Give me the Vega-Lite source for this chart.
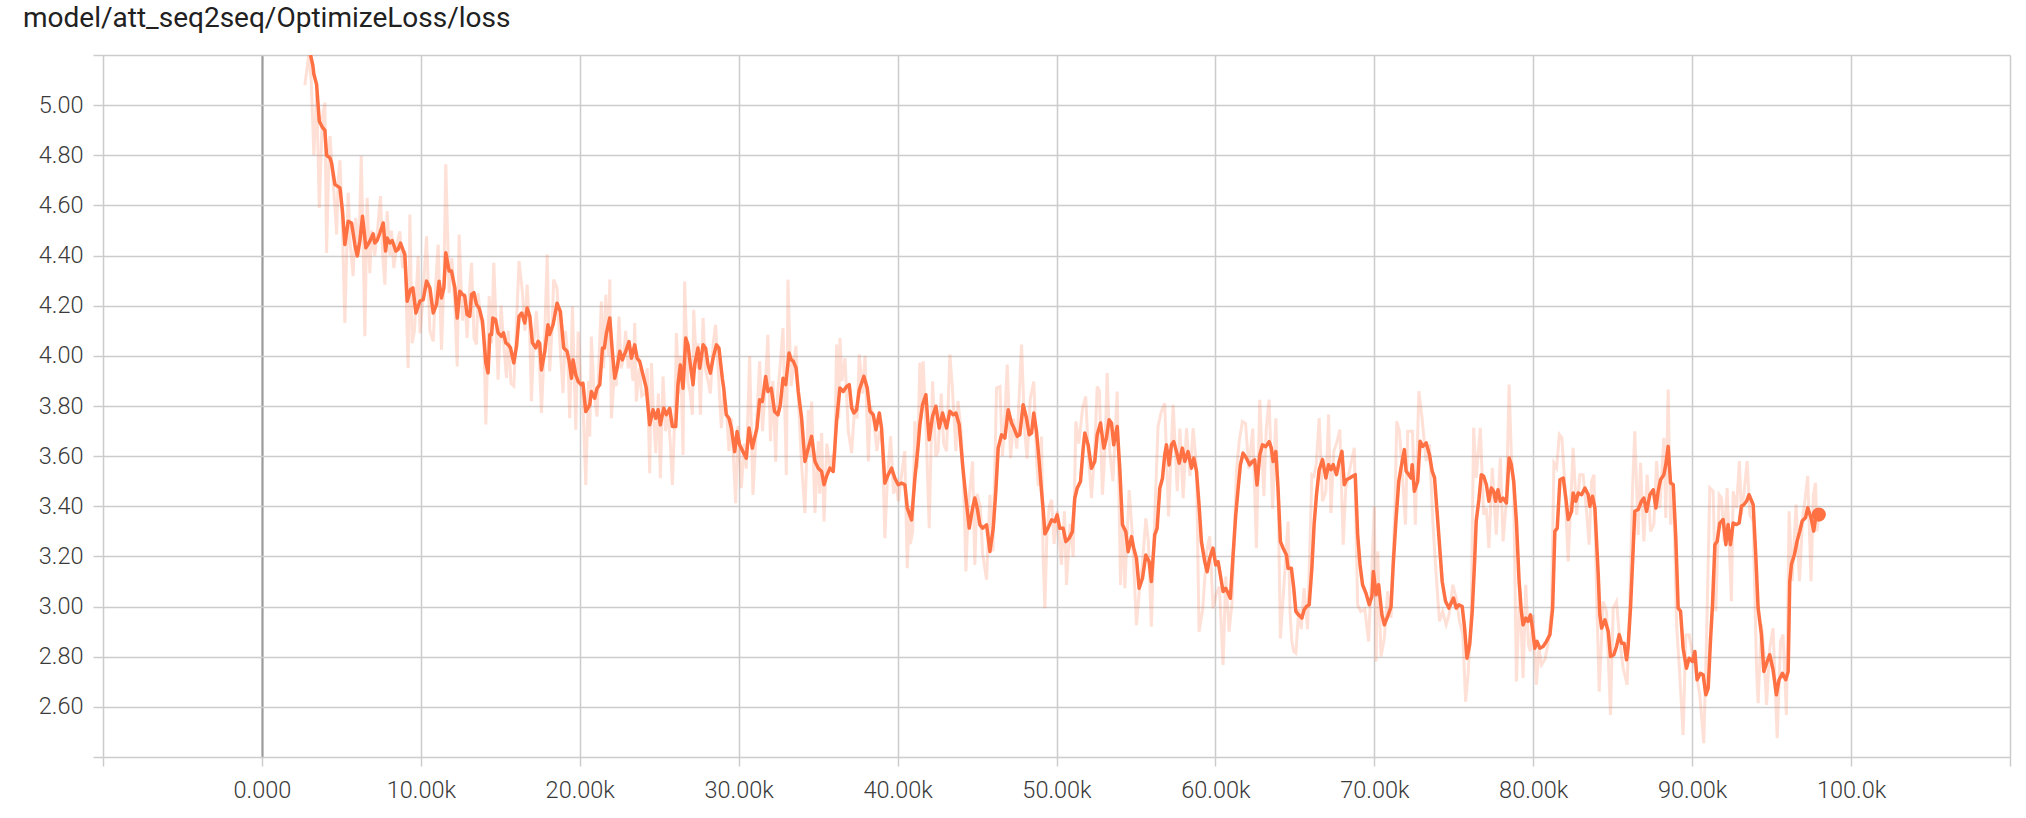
{
"$schema":"https://vega.github.io/schema/vega-lite/v6.json",
"width":1907,"height":702,
"autosize":{"type":"pad"},
"padding":{"left":23,"top":5,"right":16,"bottom":5},
"background":"white",
"title":{"text":"model/att_seq2seq/OptimizeLoss/loss","anchor":"start","frame":"group","dx":-80,"baseline":"bottom","offset":-18,"font":"Roboto","fontSize":28,"fontWeight":400,"color":"#212121"},
"datasets":{
"raw":[{"s":2700,"v":5.08},{"s":2950,"v":5.2},{"s":3100,"v":5.1},{"s":3270,"v":4.8},{"s":3450,"v":5.05},{"s":3610,"v":4.59},{"s":3800,"v":4.95},{"s":3960,"v":5.01},{"s":4070,"v":4.41},{"s":4200,"v":4.75},{"s":4280,"v":4.877},{"s":4450,"v":4.72},{"s":4590,"v":4.6},{"s":4700,"v":4.484},{"s":4800,"v":4.7},{"s":4910,"v":4.78},{"s":5050,"v":4.55},{"s":5220,"v":4.131},{"s":5430,"v":4.65},{"s":5550,"v":4.45},{"s":5740,"v":4.318},{"s":5900,"v":4.55},{"s":6000,"v":4.48},{"s":6100,"v":4.4},{"s":6250,"v":4.797},{"s":6350,"v":4.5},{"s":6480,"v":4.078},{"s":6620,"v":4.63},{"s":6790,"v":4.33},{"s":6900,"v":4.5},{"s":7100,"v":4.4},{"s":7300,"v":4.52},{"s":7460,"v":4.637},{"s":7600,"v":4.4},{"s":7740,"v":4.284},{"s":7880,"v":4.577},{"s":8050,"v":4.4},{"s":8150,"v":4.5},{"s":8300,"v":4.35},{"s":8500,"v":4.45},{"s":8680,"v":4.497},{"s":8850,"v":4.35},{"s":9000,"v":4.42},{"s":9200,"v":3.952},{"s":9310,"v":4.564},{"s":9450,"v":4.05},{"s":9600,"v":4.1},{"s":9830,"v":4.397},{"s":9950,"v":4.09},{"s":10100,"v":4.2},{"s":10360,"v":4.477},{"s":10570,"v":4.1},{"s":10780,"v":4.058},{"s":10950,"v":4.3},{"s":11090,"v":4.444},{"s":11300,"v":4.025},{"s":11450,"v":4.3},{"s":11570,"v":4.764},{"s":11780,"v":4.25},{"s":11950,"v":4.39},{"s":12140,"v":4.2},{"s":12290,"v":3.958},{"s":12410,"v":4.484},{"s":12620,"v":4.14},{"s":12750,"v":4.25},{"s":12910,"v":4.072},{"s":13050,"v":4.25},{"s":13190,"v":4.371},{"s":13350,"v":4.07},{"s":13500,"v":4.045},{"s":13600,"v":4.25},{"s":13780,"v":4.14},{"s":13950,"v":4.1},{"s":14090,"v":3.726},{"s":14300,"v":4.238},{"s":14450,"v":4.05},{"s":14590,"v":4.371},{"s":14750,"v":4.1},{"s":14860,"v":3.905},{"s":15050,"v":4.2},{"s":15200,"v":4.06},{"s":15390,"v":3.912},{"s":15500,"v":4.1},{"s":15670,"v":3.89},{"s":15850,"v":3.88},{"s":16000,"v":4.1},{"s":16180,"v":4.378},{"s":16400,"v":4.25},{"s":16550,"v":4.1},{"s":16690,"v":4.284},{"s":16850,"v":4.1},{"s":16960,"v":3.819},{"s":17100,"v":4.05},{"s":17270,"v":4.178},{"s":17450,"v":4.0},{"s":17590,"v":3.772},{"s":17780,"v":4.05},{"s":17950,"v":4.404},{"s":18110,"v":3.938},{"s":18250,"v":4.1},{"s":18360,"v":4.304},{"s":18570,"v":4.27},{"s":18750,"v":4.05},{"s":18950,"v":3.851},{"s":19100,"v":4.1},{"s":19250,"v":4.0},{"s":19370,"v":3.751},{"s":19540,"v":4.197},{"s":19750,"v":3.705},{"s":19900,"v":4.097},{"s":20050,"v":3.9},{"s":20200,"v":3.82},{"s":20380,"v":3.485},{"s":20550,"v":3.9},{"s":20630,"v":3.678},{"s":20730,"v":4.077},{"s":20900,"v":3.85},{"s":21090,"v":3.758},{"s":21250,"v":4.05},{"s":21360,"v":4.217},{"s":21500,"v":3.95},{"s":21640,"v":4.244},{"s":21800,"v":4.0},{"s":21890,"v":4.304},{"s":21990,"v":3.751},{"s":22150,"v":3.9},{"s":22300,"v":3.88},{"s":22470,"v":4.157},{"s":22600,"v":3.95},{"s":22750,"v":3.99},{"s":22890,"v":4.1},{"s":23050,"v":3.95},{"s":23200,"v":4.0},{"s":23350,"v":3.9},{"s":23460,"v":4.131},{"s":23560,"v":3.818},{"s":23750,"v":3.95},{"s":23900,"v":3.84},{"s":24100,"v":3.85},{"s":24250,"v":3.95},{"s":24400,"v":3.532},{"s":24510,"v":3.971},{"s":24650,"v":3.75},{"s":24780,"v":3.612},{"s":24950,"v":3.85},{"s":25070,"v":3.512},{"s":25240,"v":3.918},{"s":25400,"v":3.7},{"s":25550,"v":3.78},{"s":25700,"v":3.65},{"s":25830,"v":3.485},{"s":26000,"v":3.8},{"s":26080,"v":4.091},{"s":26250,"v":3.85},{"s":26350,"v":4.0},{"s":26500,"v":3.605},{"s":26600,"v":4.297},{"s":26800,"v":3.9},{"s":26950,"v":3.85},{"s":27090,"v":3.765},{"s":27170,"v":4.184},{"s":27350,"v":3.95},{"s":27450,"v":4.05},{"s":27590,"v":3.765},{"s":27760,"v":4.151},{"s":27900,"v":3.95},{"s":28070,"v":3.9},{"s":28220,"v":3.85},{"s":28400,"v":4.05},{"s":28550,"v":4.124},{"s":28750,"v":3.9},{"s":28910,"v":3.712},{"s":29050,"v":3.85},{"s":29220,"v":3.8},{"s":29390,"v":3.62},{"s":29550,"v":3.75},{"s":29810,"v":3.412},{"s":29950,"v":3.72},{"s":30170,"v":3.472},{"s":30350,"v":3.65},{"s":30480,"v":3.55},{"s":30690,"v":3.998},{"s":30900,"v":3.445},{"s":31100,"v":3.7},{"s":31320,"v":3.978},{"s":31500,"v":3.7},{"s":31650,"v":3.85},{"s":31840,"v":4.084},{"s":32000,"v":3.66},{"s":32150,"v":3.9},{"s":32330,"v":3.578},{"s":32450,"v":3.85},{"s":32580,"v":3.938},{"s":32790,"v":4.111},{"s":33000,"v":3.525},{"s":33100,"v":4.304},{"s":33300,"v":3.88},{"s":33440,"v":3.95},{"s":33600,"v":4.04},{"s":33750,"v":3.84},{"s":33960,"v":3.566},{"s":34170,"v":3.373},{"s":34380,"v":3.785},{"s":34500,"v":3.6},{"s":34590,"v":3.818},{"s":34800,"v":3.373},{"s":35010,"v":3.659},{"s":35100,"v":3.45},{"s":35220,"v":3.692},{"s":35370,"v":3.339},{"s":35550,"v":3.65},{"s":35750,"v":3.55},{"s":35900,"v":3.6},{"s":36050,"v":3.6},{"s":36160,"v":4.045},{"s":36300,"v":3.75},{"s":36370,"v":4.071},{"s":36500,"v":3.9},{"s":36690,"v":3.991},{"s":36900,"v":3.7},{"s":37110,"v":3.612},{"s":37300,"v":3.8},{"s":37450,"v":3.75},{"s":37590,"v":4.005},{"s":37800,"v":3.85},{"s":37950,"v":4.0},{"s":38160,"v":3.579},{"s":38300,"v":3.8},{"s":38500,"v":3.75},{"s":38700,"v":3.62},{"s":38850,"v":3.7},{"s":39050,"v":3.65},{"s":39200,"v":3.273},{"s":39350,"v":3.5},{"s":39560,"v":3.679},{"s":39750,"v":3.45},{"s":39900,"v":3.5},{"s":40050,"v":3.42},{"s":40200,"v":3.5},{"s":40450,"v":3.62},{"s":40610,"v":3.153},{"s":40750,"v":3.4},{"s":40800,"v":3.25},{"s":40950,"v":3.3},{"s":41090,"v":3.739},{"s":41250,"v":3.55},{"s":41400,"v":3.972},{"s":41500,"v":3.75},{"s":41610,"v":3.978},{"s":41800,"v":3.7},{"s":41990,"v":3.313},{"s":42200,"v":3.898},{"s":42410,"v":3.6},{"s":42550,"v":3.62},{"s":42750,"v":3.85},{"s":42900,"v":3.65},{"s":43080,"v":3.62},{"s":43290,"v":4.005},{"s":43450,"v":3.87},{"s":43670,"v":3.62},{"s":43800,"v":3.82},{"s":44000,"v":3.7},{"s":44150,"v":3.5},{"s":44300,"v":3.14},{"s":44450,"v":3.4},{"s":44720,"v":3.579},{"s":44860,"v":3.166},{"s":45000,"v":3.45},{"s":45200,"v":3.4},{"s":45350,"v":3.21},{"s":45600,"v":3.107},{"s":45810,"v":3.446},{"s":46000,"v":3.22},{"s":46230,"v":3.872},{"s":46440,"v":3.878},{"s":46600,"v":3.6},{"s":46750,"v":3.75},{"s":46900,"v":3.965},{"s":47110,"v":3.592},{"s":47300,"v":3.75},{"s":47500,"v":3.63},{"s":47800,"v":4.045},{"s":48000,"v":3.7},{"s":48150,"v":3.59},{"s":48350,"v":3.83},{"s":48570,"v":3.898},{"s":48750,"v":3.58},{"s":48850,"v":3.48},{"s":49060,"v":3.678},{"s":49160,"v":3.193},{"s":49270,"v":2.993},{"s":49400,"v":3.3},{"s":49550,"v":3.4},{"s":49690,"v":3.426},{"s":49850,"v":3.25},{"s":50050,"v":3.38},{"s":50310,"v":3.166},{"s":50500,"v":3.38},{"s":50630,"v":3.086},{"s":50850,"v":3.33},{"s":51050,"v":3.199},{"s":51220,"v":3.738},{"s":51400,"v":3.65},{"s":51640,"v":3.791},{"s":51840,"v":3.838},{"s":52000,"v":3.62},{"s":52200,"v":3.432},{"s":52410,"v":3.63},{"s":52560,"v":3.878},{"s":52700,"v":3.86},{"s":52890,"v":3.446},{"s":53050,"v":3.63},{"s":53190,"v":3.931},{"s":53350,"v":3.62},{"s":53550,"v":3.5},{"s":53820,"v":3.858},{"s":54030,"v":3.086},{"s":54150,"v":3.35},{"s":54300,"v":3.073},{"s":54570,"v":3.465},{"s":54780,"v":3.28},{"s":55030,"v":2.926},{"s":55250,"v":3.09},{"s":55410,"v":3.17},{"s":55620,"v":3.352},{"s":55780,"v":3.26},{"s":55970,"v":2.92},{"s":56180,"v":3.35},{"s":56390,"v":3.718},{"s":56600,"v":3.778},{"s":56810,"v":3.811},{"s":57050,"v":3.36},{"s":57340,"v":3.805},{"s":57600,"v":3.46},{"s":57760,"v":3.71},{"s":57970,"v":3.432},{"s":58180,"v":3.711},{"s":58400,"v":3.52},{"s":58600,"v":3.711},{"s":58810,"v":3.55},{"s":58970,"v":2.9},{"s":59200,"v":2.99},{"s":59450,"v":3.22},{"s":59640,"v":3.28},{"s":59850,"v":2.993},{"s":60050,"v":3.05},{"s":60250,"v":3.08},{"s":60480,"v":2.767},{"s":60650,"v":3.12},{"s":60860,"v":2.9},{"s":61050,"v":3.02},{"s":61320,"v":3.539},{"s":61500,"v":3.66},{"s":61700,"v":3.738},{"s":61900,"v":3.73},{"s":62100,"v":3.55},{"s":62350,"v":3.71},{"s":62580,"v":3.233},{"s":62790,"v":3.825},{"s":63050,"v":3.44},{"s":63200,"v":3.71},{"s":63380,"v":3.825},{"s":63600,"v":3.39},{"s":63800,"v":3.751},{"s":63950,"v":3.44},{"s":64090,"v":2.873},{"s":64350,"v":3.12},{"s":64570,"v":3.339},{"s":64700,"v":2.97},{"s":64810,"v":2.861},{"s":64930,"v":2.82},{"s":65060,"v":2.814},{"s":65250,"v":2.99},{"s":65400,"v":2.91},{"s":65580,"v":3.074},{"s":65800,"v":2.91},{"s":66070,"v":3.526},{"s":66200,"v":3.52},{"s":66350,"v":3.57},{"s":66530,"v":3.752},{"s":66740,"v":3.42},{"s":66950,"v":3.46},{"s":67120,"v":3.766},{"s":67270,"v":3.373},{"s":67450,"v":3.62},{"s":67620,"v":3.65},{"s":67830,"v":3.706},{"s":68040,"v":3.247},{"s":68200,"v":3.47},{"s":68400,"v":3.53},{"s":68740,"v":3.633},{"s":68950,"v":3.007},{"s":69150,"v":2.98},{"s":69400,"v":2.99},{"s":69640,"v":2.861},{"s":69850,"v":3.16},{"s":70000,"v":3.4},{"s":70110,"v":2.781},{"s":70210,"v":3.22},{"s":70420,"v":2.801},{"s":70630,"v":2.874},{"s":70840,"v":3.061},{"s":71050,"v":2.955},{"s":71300,"v":3.4},{"s":71410,"v":3.739},{"s":71580,"v":3.699},{"s":71750,"v":3.54},{"s":71960,"v":3.327},{"s":72100,"v":3.699},{"s":72400,"v":3.699},{"s":72580,"v":3.327},{"s":72800,"v":3.859},{"s":73000,"v":3.753},{"s":73260,"v":3.58},{"s":73470,"v":3.646},{"s":73680,"v":3.34},{"s":73890,"v":3.127},{"s":74100,"v":2.941},{"s":74300,"v":2.98},{"s":74520,"v":2.928},{"s":74700,"v":2.968},{"s":74940,"v":3.087},{"s":75150,"v":3.034},{"s":75360,"v":2.941},{"s":75570,"v":2.888},{"s":75740,"v":2.621},{"s":75900,"v":2.728},{"s":76100,"v":2.981},{"s":76250,"v":3.713},{"s":76410,"v":3.513},{"s":76670,"v":3.713},{"s":76880,"v":3.366},{"s":77050,"v":3.393},{"s":77210,"v":3.234},{"s":77420,"v":3.553},{"s":77670,"v":3.287},{"s":77930,"v":3.593},{"s":78100,"v":3.26},{"s":78310,"v":3.42},{"s":78480,"v":3.886},{"s":78620,"v":3.606},{"s":78770,"v":3.473},{"s":78940,"v":2.701},{"s":79150,"v":3.074},{"s":79360,"v":2.715},{"s":79530,"v":3.087},{"s":79700,"v":2.848},{"s":79820,"v":2.821},{"s":79990,"v":2.967},{"s":80200,"v":2.688},{"s":80360,"v":2.834},{"s":80520,"v":2.768},{"s":80740,"v":2.79},{"s":80950,"v":2.86},{"s":81150,"v":2.99},{"s":81300,"v":3.573},{"s":81470,"v":3.553},{"s":81640,"v":3.686},{"s":81800,"v":3.673},{"s":81950,"v":3.526},{"s":82200,"v":3.18},{"s":82410,"v":3.486},{"s":82510,"v":3.633},{"s":82730,"v":3.366},{"s":82930,"v":3.526},{"s":83140,"v":3.526},{"s":83350,"v":3.38},{"s":83520,"v":3.247},{"s":83670,"v":3.5},{"s":83820,"v":3.526},{"s":84000,"v":3.02},{"s":84150,"v":2.661},{"s":84400,"v":3.02},{"s":84610,"v":2.981},{"s":84860,"v":2.568},{"s":85030,"v":2.994},{"s":85240,"v":3.02},{"s":85450,"v":2.861},{"s":85660,"v":2.754},{"s":85910,"v":2.688},{"s":86080,"v":3.04},{"s":86250,"v":3.473},{"s":86390,"v":3.699},{"s":86600,"v":3.286},{"s":86750,"v":3.573},{"s":86960,"v":3.26},{"s":87170,"v":3.526},{"s":87380,"v":3.3},{"s":87590,"v":3.33},{"s":87760,"v":3.58},{"s":87960,"v":3.393},{"s":88220,"v":3.673},{"s":88340,"v":3.353},{"s":88490,"v":3.866},{"s":88640,"v":3.327},{"s":88810,"v":3.486},{"s":89020,"v":2.928},{"s":89220,"v":2.728},{"s":89430,"v":2.488},{"s":89600,"v":2.887},{"s":89810,"v":2.887},{"s":90020,"v":2.808},{"s":90270,"v":2.728},{"s":90480,"v":2.648},{"s":90730,"v":2.455},{"s":90900,"v":2.861},{"s":91110,"v":3.473},{"s":91320,"v":3.46},{"s":91490,"v":2.981},{"s":91700,"v":3.446},{"s":91850,"v":3.433},{"s":92000,"v":3.26},{"s":92200,"v":3.473},{"s":92470,"v":3.021},{"s":92580,"v":3.46},{"s":92790,"v":3.393},{"s":92970,"v":3.58},{"s":93100,"v":3.366},{"s":93250,"v":3.446},{"s":93460,"v":3.58},{"s":93630,"v":3.366},{"s":93840,"v":3.34},{"s":94050,"v":2.754},{"s":94150,"v":2.615},{"s":94360,"v":2.928},{"s":94510,"v":2.821},{"s":94680,"v":2.608},{"s":94880,"v":2.834},{"s":95090,"v":2.914},{"s":95350,"v":2.475},{"s":95560,"v":2.861},{"s":95720,"v":2.888},{"s":95930,"v":2.568},{"s":96100,"v":3.38},{"s":96290,"v":3.101},{"s":96540,"v":3.407},{"s":96750,"v":3.101},{"s":96960,"v":3.36},{"s":97130,"v":3.44},{"s":97270,"v":3.521},{"s":97480,"v":3.101},{"s":97620,"v":3.44},{"s":97760,"v":3.494},{"s":97850,"v":3.3},{"s":97970,"v":3.36}],
"smooth":[{"s":3060,"v":5.2},{"s":3200,"v":5.16},{"s":3270,"v":5.123},{"s":3440,"v":5.083},{"s":3610,"v":4.936},{"s":3820,"v":4.91},{"s":3960,"v":4.9},{"s":4070,"v":4.8},{"s":4280,"v":4.79},{"s":4380,"v":4.77},{"s":4590,"v":4.684},{"s":4910,"v":4.67},{"s":5070,"v":4.577},{"s":5220,"v":4.444},{"s":5430,"v":4.537},{"s":5640,"v":4.53},{"s":5850,"v":4.444},{"s":6000,"v":4.398},{"s":6160,"v":4.457},{"s":6330,"v":4.557},{"s":6540,"v":4.431},{"s":6790,"v":4.457},{"s":7000,"v":4.487},{"s":7100,"v":4.45},{"s":7250,"v":4.46},{"s":7420,"v":4.49},{"s":7630,"v":4.53},{"s":7780,"v":4.418},{"s":7880,"v":4.47},{"s":8050,"v":4.45},{"s":8200,"v":4.46},{"s":8430,"v":4.418},{"s":8570,"v":4.425},{"s":8720,"v":4.45},{"s":8990,"v":4.404},{"s":9140,"v":4.218},{"s":9350,"v":4.265},{"s":9500,"v":4.271},{"s":9690,"v":4.171},{"s":9940,"v":4.218},{"s":10150,"v":4.224},{"s":10360,"v":4.298},{"s":10570,"v":4.271},{"s":10780,"v":4.171},{"s":10990,"v":4.205},{"s":11150,"v":4.298},{"s":11300,"v":4.231},{"s":11450,"v":4.271},{"s":11570,"v":4.411},{"s":11780,"v":4.338},{"s":11930,"v":4.338},{"s":12140,"v":4.271},{"s":12290,"v":4.151},{"s":12450,"v":4.258},{"s":12620,"v":4.245},{"s":12760,"v":4.24},{"s":12910,"v":4.165},{"s":13080,"v":4.158},{"s":13190,"v":4.245},{"s":13340,"v":4.252},{"s":13500,"v":4.205},{"s":13670,"v":4.191},{"s":13880,"v":4.138},{"s":14090,"v":3.972},{"s":14230,"v":3.932},{"s":14340,"v":4.085},{"s":14450,"v":4.085},{"s":14530,"v":4.151},{"s":14700,"v":4.145},{"s":14860,"v":4.092},{"s":15070,"v":4.078},{"s":15200,"v":4.092},{"s":15350,"v":4.052},{"s":15490,"v":4.045},{"s":15640,"v":4.032},{"s":15850,"v":3.972},{"s":16020,"v":4.038},{"s":16180,"v":4.158},{"s":16350,"v":4.171},{"s":16540,"v":4.131},{"s":16690,"v":4.191},{"s":16860,"v":4.158},{"s":17020,"v":4.052},{"s":17230,"v":4.032},{"s":17380,"v":4.058},{"s":17480,"v":4.05},{"s":17590,"v":3.944},{"s":17800,"v":4.018},{"s":18000,"v":4.124},{"s":18100,"v":4.085},{"s":18320,"v":4.124},{"s":18570,"v":4.21},{"s":18780,"v":4.177},{"s":18990,"v":4.031},{"s":19200,"v":4.018},{"s":19330,"v":3.98},{"s":19480,"v":3.911},{"s":19580,"v":3.984},{"s":19750,"v":3.924},{"s":19900,"v":3.898},{"s":20100,"v":3.885},{"s":20200,"v":3.891},{"s":20380,"v":3.778},{"s":20630,"v":3.805},{"s":20730,"v":3.858},{"s":20940,"v":3.831},{"s":21090,"v":3.871},{"s":21260,"v":3.885},{"s":21430,"v":4.031},{"s":21550,"v":4.031},{"s":21680,"v":4.091},{"s":21890,"v":4.151},{"s":22050,"v":4.018},{"s":22200,"v":3.911},{"s":22350,"v":3.951},{"s":22520,"v":4.018},{"s":22680,"v":3.984},{"s":22890,"v":4.018},{"s":23100,"v":4.057},{"s":23250,"v":3.991},{"s":23460,"v":4.044},{"s":23610,"v":3.991},{"s":23770,"v":3.978},{"s":23980,"v":3.924},{"s":24190,"v":3.871},{"s":24400,"v":3.725},{"s":24610,"v":3.785},{"s":24780,"v":3.751},{"s":24930,"v":3.785},{"s":25070,"v":3.725},{"s":25280,"v":3.791},{"s":25450,"v":3.765},{"s":25660,"v":3.791},{"s":25830,"v":3.718},{"s":26040,"v":3.718},{"s":26180,"v":3.885},{"s":26330,"v":3.964},{"s":26500,"v":3.871},{"s":26670,"v":4.071},{"s":26810,"v":4.044},{"s":26960,"v":3.964},{"s":27130,"v":3.885},{"s":27230,"v":3.964},{"s":27440,"v":4.031},{"s":27550,"v":3.951},{"s":27760,"v":4.044},{"s":27920,"v":4.031},{"s":28070,"v":3.964},{"s":28220,"v":3.931},{"s":28390,"v":3.991},{"s":28600,"v":4.044},{"s":28760,"v":4.031},{"s":28970,"v":3.911},{"s":29060,"v":3.871},{"s":29220,"v":3.765},{"s":29390,"v":3.751},{"s":29540,"v":3.712},{"s":29750,"v":3.618},{"s":29900,"v":3.698},{"s":30060,"v":3.645},{"s":30270,"v":3.618},{"s":30480,"v":3.592},{"s":30650,"v":3.712},{"s":30860,"v":3.632},{"s":31000,"v":3.672},{"s":31150,"v":3.712},{"s":31320,"v":3.825},{"s":31490,"v":3.818},{"s":31700,"v":3.918},{"s":31840,"v":3.858},{"s":32050,"v":3.871},{"s":32260,"v":3.778},{"s":32470,"v":3.765},{"s":32620,"v":3.805},{"s":32790,"v":3.911},{"s":32960,"v":3.885},{"s":33170,"v":4.011},{"s":33310,"v":3.985},{"s":33440,"v":3.978},{"s":33610,"v":3.952},{"s":33750,"v":3.858},{"s":33960,"v":3.752},{"s":34170,"v":3.579},{"s":34380,"v":3.632},{"s":34590,"v":3.679},{"s":34800,"v":3.579},{"s":35010,"v":3.552},{"s":35220,"v":3.539},{"s":35370,"v":3.486},{"s":35530,"v":3.519},{"s":35740,"v":3.552},{"s":35950,"v":3.539},{"s":36160,"v":3.739},{"s":36370,"v":3.872},{"s":36580,"v":3.858},{"s":36790,"v":3.878},{"s":36960,"v":3.885},{"s":37110,"v":3.792},{"s":37250,"v":3.772},{"s":37420,"v":3.785},{"s":37590,"v":3.865},{"s":37880,"v":3.918},{"s":38090,"v":3.872},{"s":38260,"v":3.779},{"s":38470,"v":3.765},{"s":38640,"v":3.705},{"s":38850,"v":3.772},{"s":38990,"v":3.712},{"s":39200,"v":3.492},{"s":39410,"v":3.526},{"s":39620,"v":3.552},{"s":39830,"v":3.512},{"s":40040,"v":3.486},{"s":40250,"v":3.492},{"s":40460,"v":3.486},{"s":40610,"v":3.393},{"s":40880,"v":3.346},{"s":41090,"v":3.512},{"s":41300,"v":3.646},{"s":41400,"v":3.725},{"s":41570,"v":3.805},{"s":41780,"v":3.845},{"s":41990,"v":3.665},{"s":42200,"v":3.759},{"s":42410,"v":3.799},{"s":42620,"v":3.712},{"s":42830,"v":3.772},{"s":43080,"v":3.712},{"s":43290,"v":3.779},{"s":43500,"v":3.765},{"s":43670,"v":3.772},{"s":43880,"v":3.725},{"s":44090,"v":3.566},{"s":44300,"v":3.433},{"s":44510,"v":3.313},{"s":44720,"v":3.393},{"s":44860,"v":3.433},{"s":45010,"v":3.393},{"s":45180,"v":3.326},{"s":45350,"v":3.313},{"s":45600,"v":3.326},{"s":45810,"v":3.22},{"s":46020,"v":3.313},{"s":46180,"v":3.459},{"s":46330,"v":3.632},{"s":46540,"v":3.685},{"s":46750,"v":3.672},{"s":46960,"v":3.785},{"s":47170,"v":3.732},{"s":47320,"v":3.712},{"s":47530,"v":3.679},{"s":47690,"v":3.685},{"s":47900,"v":3.805},{"s":48110,"v":3.752},{"s":48280,"v":3.685},{"s":48430,"v":3.692},{"s":48570,"v":3.772},{"s":48740,"v":3.699},{"s":48910,"v":3.579},{"s":49060,"v":3.459},{"s":49170,"v":3.38},{"s":49270,"v":3.29},{"s":49480,"v":3.315},{"s":49690,"v":3.346},{"s":49900,"v":3.339},{"s":50040,"v":3.366},{"s":50210,"v":3.312},{"s":50420,"v":3.312},{"s":50590,"v":3.259},{"s":50800,"v":3.273},{"s":51000,"v":3.299},{"s":51150,"v":3.432},{"s":51300,"v":3.472},{"s":51510,"v":3.499},{"s":51680,"v":3.632},{"s":51780,"v":3.692},{"s":51990,"v":3.645},{"s":52200,"v":3.552},{"s":52410,"v":3.579},{"s":52560,"v":3.685},{"s":52770,"v":3.732},{"s":52980,"v":3.632},{"s":53140,"v":3.672},{"s":53310,"v":3.745},{"s":53460,"v":3.732},{"s":53600,"v":3.645},{"s":53820,"v":3.718},{"s":53980,"v":3.552},{"s":54150,"v":3.326},{"s":54360,"v":3.299},{"s":54510,"v":3.219},{"s":54720,"v":3.279},{"s":54860,"v":3.233},{"s":55030,"v":3.193},{"s":55200,"v":3.073},{"s":55410,"v":3.113},{"s":55620,"v":3.206},{"s":55830,"v":3.179},{"s":55970,"v":3.1},{"s":56180,"v":3.286},{"s":56330,"v":3.312},{"s":56500,"v":3.472},{"s":56670,"v":3.512},{"s":56810,"v":3.605},{"s":56920,"v":3.645},{"s":57090,"v":3.565},{"s":57230,"v":3.645},{"s":57380,"v":3.658},{"s":57550,"v":3.618},{"s":57720,"v":3.572},{"s":57920,"v":3.632},{"s":58070,"v":3.579},{"s":58280,"v":3.618},{"s":58490,"v":3.552},{"s":58640,"v":3.592},{"s":58810,"v":3.539},{"s":58970,"v":3.406},{"s":59120,"v":3.259},{"s":59330,"v":3.179},{"s":59480,"v":3.139},{"s":59640,"v":3.193},{"s":59850,"v":3.233},{"s":60020,"v":3.166},{"s":60170,"v":3.179},{"s":60310,"v":3.126},{"s":60480,"v":3.06},{"s":60650,"v":3.073},{"s":60800,"v":3.053},{"s":60940,"v":3.033},{"s":61110,"v":3.206},{"s":61280,"v":3.366},{"s":61430,"v":3.472},{"s":61570,"v":3.565},{"s":61740,"v":3.612},{"s":61950,"v":3.592},{"s":62160,"v":3.565},{"s":62330,"v":3.579},{"s":62470,"v":3.585},{"s":62620,"v":3.485},{"s":62790,"v":3.605},{"s":62960,"v":3.645},{"s":63170,"v":3.638},{"s":63380,"v":3.658},{"s":63520,"v":3.632},{"s":63630,"v":3.579},{"s":63800,"v":3.618},{"s":63940,"v":3.472},{"s":64090,"v":3.259},{"s":64260,"v":3.233},{"s":64470,"v":3.206},{"s":64570,"v":3.153},{"s":64780,"v":3.153},{"s":64930,"v":3.073},{"s":65060,"v":2.981},{"s":65230,"v":2.967},{"s":65440,"v":2.954},{"s":65580,"v":2.987},{"s":65730,"v":3.0},{"s":65900,"v":3.007},{"s":66070,"v":3.154},{"s":66210,"v":3.327},{"s":66360,"v":3.446},{"s":66530,"v":3.546},{"s":66740,"v":3.586},{"s":66950,"v":3.513},{"s":67120,"v":3.566},{"s":67270,"v":3.546},{"s":67410,"v":3.566},{"s":67620,"v":3.526},{"s":67790,"v":3.58},{"s":67960,"v":3.619},{"s":68110,"v":3.486},{"s":68250,"v":3.506},{"s":68460,"v":3.513},{"s":68630,"v":3.52},{"s":68800,"v":3.526},{"s":68950,"v":3.287},{"s":69100,"v":3.167},{"s":69260,"v":3.087},{"s":69470,"v":3.054},{"s":69680,"v":3.007},{"s":69850,"v":3.041},{"s":69940,"v":3.14},{"s":70110,"v":3.047},{"s":70270,"v":3.087},{"s":70480,"v":2.967},{"s":70630,"v":2.927},{"s":70840,"v":2.961},{"s":71050,"v":3.0},{"s":71200,"v":3.18},{"s":71370,"v":3.353},{"s":71540,"v":3.5},{"s":71680,"v":3.553},{"s":71890,"v":3.626},{"s":72000,"v":3.54},{"s":72170,"v":3.526},{"s":72310,"v":3.513},{"s":72380,"v":3.566},{"s":72520,"v":3.46},{"s":72730,"v":3.5},{"s":72880,"v":3.659},{"s":73050,"v":3.639},{"s":73260,"v":3.653},{"s":73470,"v":3.606},{"s":73640,"v":3.54},{"s":73790,"v":3.513},{"s":73930,"v":3.393},{"s":74100,"v":3.247},{"s":74270,"v":3.1},{"s":74480,"v":3.021},{"s":74690,"v":2.994},{"s":74840,"v":3.014},{"s":74980,"v":3.034},{"s":75150,"v":2.994},{"s":75320,"v":3.007},{"s":75530,"v":3.0},{"s":75680,"v":2.914},{"s":75830,"v":2.794},{"s":76000,"v":2.848},{"s":76160,"v":2.981},{"s":76310,"v":3.18},{"s":76410,"v":3.34},{"s":76580,"v":3.426},{"s":76730,"v":3.526},{"s":76880,"v":3.52},{"s":77050,"v":3.486},{"s":77210,"v":3.42},{"s":77360,"v":3.473},{"s":77510,"v":3.46},{"s":77630,"v":3.42},{"s":77780,"v":3.466},{"s":77930,"v":3.42},{"s":78100,"v":3.433},{"s":78310,"v":3.413},{"s":78480,"v":3.593},{"s":78620,"v":3.566},{"s":78770,"v":3.5},{"s":78940,"v":3.34},{"s":79110,"v":3.1},{"s":79250,"v":2.981},{"s":79360,"v":2.927},{"s":79530,"v":2.954},{"s":79670,"v":2.941},{"s":79820,"v":2.967},{"s":79950,"v":2.914},{"s":80100,"v":2.834},{"s":80240,"v":2.861},{"s":80410,"v":2.834},{"s":80620,"v":2.841},{"s":80830,"v":2.861},{"s":81050,"v":2.888},{"s":81220,"v":2.994},{"s":81360,"v":3.3},{"s":81510,"v":3.313},{"s":81680,"v":3.506},{"s":81890,"v":3.513},{"s":82050,"v":3.433},{"s":82200,"v":3.347},{"s":82410,"v":3.38},{"s":82510,"v":3.453},{"s":82680,"v":3.42},{"s":82830,"v":3.453},{"s":83040,"v":3.446},{"s":83250,"v":3.473},{"s":83460,"v":3.446},{"s":83560,"v":3.4},{"s":83730,"v":3.44},{"s":83880,"v":3.393},{"s":84090,"v":3.127},{"s":84190,"v":2.967},{"s":84300,"v":2.914},{"s":84510,"v":2.947},{"s":84720,"v":2.901},{"s":84860,"v":2.801},{"s":85070,"v":2.808},{"s":85240,"v":2.841},{"s":85410,"v":2.888},{"s":85560,"v":2.854},{"s":85720,"v":2.854},{"s":85870,"v":2.788},{"s":85970,"v":2.841},{"s":86120,"v":2.994},{"s":86290,"v":3.234},{"s":86390,"v":3.38},{"s":86600,"v":3.387},{"s":86810,"v":3.42},{"s":86960,"v":3.433},{"s":87130,"v":3.38},{"s":87340,"v":3.446},{"s":87550,"v":3.466},{"s":87720,"v":3.393},{"s":87860,"v":3.46},{"s":88010,"v":3.506},{"s":88220,"v":3.526},{"s":88340,"v":3.566},{"s":88490,"v":3.639},{"s":88640,"v":3.493},{"s":88810,"v":3.486},{"s":88970,"v":3.273},{"s":89120,"v":2.994},{"s":89270,"v":2.981},{"s":89430,"v":2.834},{"s":89640,"v":2.754},{"s":89810,"v":2.794},{"s":90020,"v":2.781},{"s":90170,"v":2.821},{"s":90310,"v":2.708},{"s":90520,"v":2.734},{"s":90690,"v":2.728},{"s":90860,"v":2.648},{"s":91010,"v":2.675},{"s":91150,"v":2.861},{"s":91280,"v":3.007},{"s":91430,"v":3.247},{"s":91570,"v":3.26},{"s":91740,"v":3.333},{"s":91950,"v":3.347},{"s":92120,"v":3.247},{"s":92260,"v":3.327},{"s":92410,"v":3.247},{"s":92580,"v":3.333},{"s":92790,"v":3.327},{"s":92960,"v":3.333},{"s":93100,"v":3.4},{"s":93250,"v":3.406},{"s":93420,"v":3.42},{"s":93580,"v":3.446},{"s":93840,"v":3.406},{"s":94000,"v":3.207},{"s":94150,"v":2.994},{"s":94360,"v":2.888},{"s":94510,"v":2.741},{"s":94720,"v":2.781},{"s":94880,"v":2.808},{"s":95090,"v":2.748},{"s":95300,"v":2.648},{"s":95470,"v":2.708},{"s":95680,"v":2.734},{"s":95890,"v":2.708},{"s":96040,"v":2.741},{"s":96140,"v":3.1},{"s":96250,"v":3.17},{"s":96440,"v":3.208},{"s":96600,"v":3.26},{"s":96770,"v":3.3},{"s":96920,"v":3.341},{"s":97130,"v":3.354},{"s":97270,"v":3.394},{"s":97480,"v":3.354},{"s":97650,"v":3.301},{"s":97800,"v":3.367},{"s":97970,"v":3.367}]
},
"encoding":{
"x":{"field":"s","type":"quantitative","scale":{"domain":[-10000,110000],"nice":false,"zero":false},
"axis":{"title":null,"values":[-10000,0,10000,20000,30000,40000,50000,60000,70000,80000,90000,100000,110000],"labelExpr":"datum.value < 0 || datum.value > 100000 ? '' : format(datum.value, '.4s')","labelOverlap":false,"labelFlush":false,"tickSize":9,"labelPadding":12,
"gridColor":{"condition":{"test":"datum.value === 0","value":"#9a9a9a"},"value":"#cccccc"},
"gridWidth":{"condition":{"test":"datum.value === 0","value":2.2},"value":1.5}}},
"y":{"field":"v","type":"quantitative","scale":{"domain":[2.4,5.2],"nice":false,"zero":false},
"axis":{"title":null,"values":[2.4,2.6,2.8,3.0,3.2,3.4,3.6,3.8,4.0,4.2,4.4,4.6,4.8,5.0,5.2],"labelExpr":"datum.value < 2.5 || datum.value > 5.1 ? '' : format(datum.value, '.2f')","labelOverlap":false,"labelFlush":false,"tickSize":10,"labelPadding":10}}
},
"layer":[
{"data":{"name":"raw"},"mark":{"type":"line","color":"#ff7043","opacity":0.22,"strokeWidth":3,"clip":true}},
{"data":{"name":"smooth"},"mark":{"type":"line","color":"#ff7043","strokeWidth":3.5,"strokeJoin":"round","clip":true}},
{"data":{"name":"smooth"},"transform":[{"filter":"datum.s == 97970"}],"mark":{"type":"point","filled":true,"size":200,"color":"#ff7043","opacity":1}}
],
"config":{
"view":{"stroke":null},
"axis":{"domain":false,"grid":true,"gridColor":"#cccccc","gridWidth":1.5,"tickColor":"#cccccc","tickWidth":1.5,"labelFont":"Roboto","labelFontSize":23.5,"labelFontWeight":300,"labelColor":"#3a3a3a"}
}
}
